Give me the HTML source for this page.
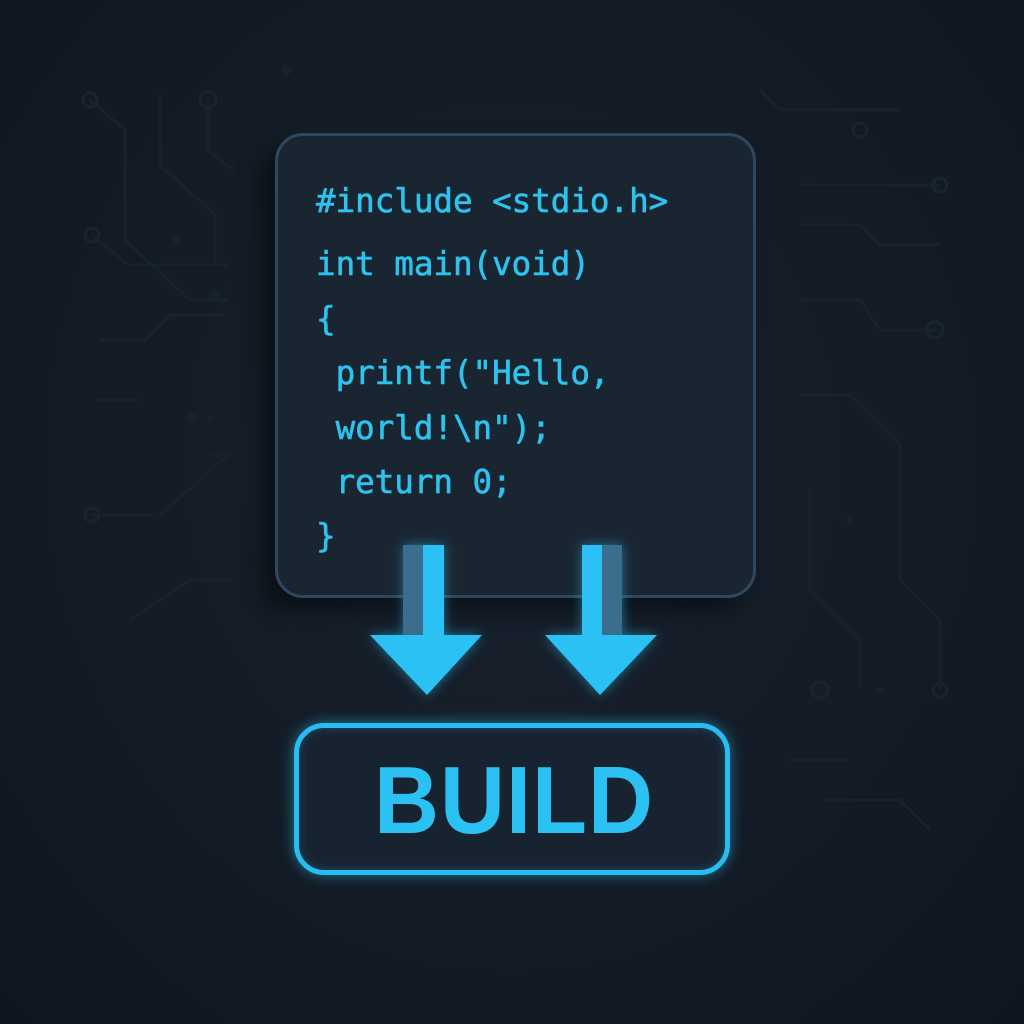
<!DOCTYPE html>
<html><head><meta charset="utf-8"><style>
html,body{margin:0;padding:0;background:#121a24;}
.wrap{position:relative;width:1024px;height:1024px;overflow:hidden;background:radial-gradient(ellipse at 50% 45%,#18222e 0%,#131b25 60%,#10161f 100%);}
.code{position:absolute;left:275px;top:133px;width:475px;height:459px;border:3px solid #2d4861;border-radius:28px;background:#1a2532;box-shadow:-14px 14px 24px rgba(0,0,0,0.45);}
.code pre{position:absolute;left:38px;top:38px;margin:0;font-family:"DejaVu Sans Mono","Liberation Mono",monospace;font-size:32.5px;line-height:54.4px;color:#2ec3ee;-webkit-text-stroke:0.6px #2ec3ee;}
.code pre .f{display:block;margin-bottom:9px;}
.build{position:absolute;left:294px;top:723px;width:426px;height:142px;border:5px solid #27bdf2;border-radius:30px;background:#172331;box-shadow:0 0 14px rgba(39,189,242,0.55),inset 0 0 10px rgba(39,189,242,0.25);}
.build span{position:absolute;left:4px;right:0;top:22px;text-align:center;font-family:"Liberation Sans",sans-serif;font-weight:bold;font-size:90px;color:#2bc1f2;letter-spacing:1px;transform:scaleY(1.06);}
svg{position:absolute;left:0;top:0;}
</style></head><body><div class="wrap">
<svg width="1024" height="1024">
<g stroke="#18222d" stroke-width="3" fill="none">
<path d="M90 100 L125 130 L125 240 L190 300 L228 300"/>
<path d="M160 95 L160 165 L215 215 L215 265"/>
<path d="M208 100 L208 150 L233 170"/>
<path d="M92 235 L128 265 L228 265"/>
<path d="M100 340 L145 340 L170 315 L228 315"/>
<path d="M92 400 L140 400 M210 455 L228 455 L160 515"/>
<path d="M92 515 L150 515"/>
<path d="M940 185 L800 185 M940 245 L880 245 L860 225 L800 225"/>
<path d="M935 330 L880 330 L860 300 L800 300"/>
<path d="M800 395 L850 395 L900 445 L900 580 L940 620 L940 690"/>
<path d="M810 490 L810 590 L860 640 L860 690"/>
<path d="M760 90 L780 110 L900 110"/>
<path d="M790 760 L850 760 M820 800 L900 800 L930 830"/>
<path d="M130 620 L190 580 L230 580"/>
</g>
<g fill="none" stroke="#1a2430" stroke-width="3">
<circle cx="90" cy="100" r="7"/><circle cx="208" cy="100" r="8"/><circle cx="92" cy="235" r="7"/><circle cx="940" cy="185" r="7"/><circle cx="935" cy="330" r="8"/><circle cx="820" cy="690" r="8"/><circle cx="940" cy="690" r="7"/><circle cx="92" cy="515" r="7"/><circle cx="860" cy="130" r="7"/>
</g>
<g fill="#18222d"><circle cx="215" cy="295" r="5"/><circle cx="177" cy="240" r="4"/><circle cx="192" cy="418" r="5"/><circle cx="210" cy="418" r="4"/><circle cx="850" cy="520" r="4"/><circle cx="880" cy="690" r="4"/><circle cx="287" cy="70" r="5"/></g>
</svg>
<div class="code"><pre><span class="f">#include &lt;stdio.h&gt;</span>int main(void)
{
 printf("Hello,
 world!\n");
 return 0;
}</pre></div>
<svg width="1024" height="1024">
<defs><filter id="g" x="-50%" y="-50%" width="200%" height="200%"><feGaussianBlur stdDeviation="6"/></filter></defs>
<g filter="url(#g)" fill="#2bb8ee" opacity="0.55">
<rect x="404" y="545" width="40" height="92"/><polygon points="370,635 482,635 427,695"/>
<rect x="582" y="545" width="40" height="92"/><polygon points="545,635 657,635 600,695"/>
</g>
<rect x="403" y="545" width="21" height="92" fill="#3a6d8e"/>
<rect x="423" y="545" width="21" height="92" fill="#2bc1f4"/>
<polygon points="370,635 482,635 427,695" fill="#2bc1f4"/>
<rect x="582" y="545" width="21" height="92" fill="#2bc1f4"/>
<rect x="602" y="545" width="20" height="92" fill="#3a6d8e"/>
<polygon points="545,635 657,635 600,695" fill="#2bc1f4"/>
</svg>
<div class="build"><span>BUILD</span></div>
</div></body></html>
